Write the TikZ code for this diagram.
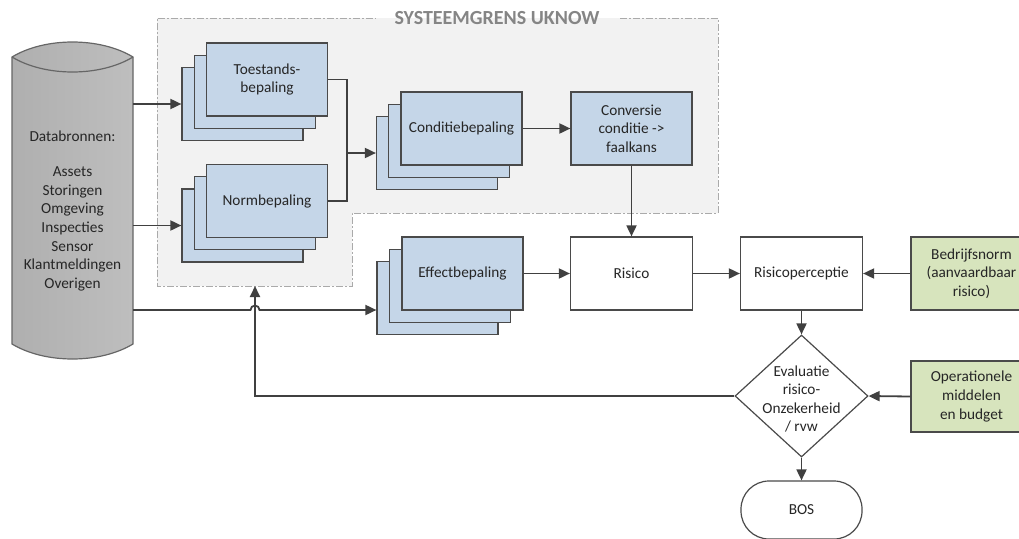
\documentclass[tikz,border=0pt]{standalone}
\usepackage{fontspec}
\setmainfont{Carlito}
\usetikzlibrary{shapes.geometric,arrows.meta,calc}
\definecolor{boxblue}{HTML}{C5D6E8}
\definecolor{boxgreen}{HTML}{D7E4BD}
\definecolor{boxline}{HTML}{4A4A4A}
\definecolor{connc}{HTML}{404040}
\definecolor{sysfill}{HTML}{F2F2F2}
\definecolor{sysline}{HTML}{AAAAAA}
\definecolor{titlec}{HTML}{858585}
\definecolor{cylL}{HTML}{AFAFAF}
\definecolor{cylR}{HTML}{BEBEBE}
\definecolor{cylline}{HTML}{666666}
\definecolor{txtc}{HTML}{262626}
\begin{document}
\begin{tikzpicture}[x=1pt,y=-1pt,
  every node/.style={font=\fontsize{15.3}{18.6}\selectfont, text=txtc},
  stackbox/.style={draw=boxline, fill=boxblue, line width=1.2pt, minimum width=121pt, minimum height=73pt, inner sep=2pt, align=center},
  plainbox/.style={draw=boxline, fill=white, line width=1.2pt, minimum width=122pt, minimum height=73pt, inner sep=2pt, align=center},
  greenbox/.style={draw=boxline, fill=boxgreen, line width=1.2pt, minimum width=121pt, minimum height=73pt, inner sep=2pt, align=center},
  conn/.style={draw=connc, line width=1.8pt},
  arr/.style={conn, -{Triangle[length=11pt,width=10pt]}},
  sysborder/.style={draw=sysline, line width=1pt, dash pattern=on 7pt off 2pt on 2pt off 2pt},
  titlestyle/.style={font=\fontsize{20}{24}\selectfont\bfseries, text=titlec, inner sep=0pt},
]
\useasboundingbox (0,0) rectangle (1019,538);

% system boundary
\fill[sysfill] (157,18) -- (718,18) -- (718,213) -- (352,213) -- (352,286) -- (157,286) -- cycle;
\path[sysborder] (620,18) -- (718,18) -- (718,213) -- (352,213) -- (352,286) -- (157,286) -- (157,18) -- (376,18);
\node[titlestyle] (title) at (497,18) {SYSTEEMGRENS UKNOW};
\coordinate (sysb) at (255,286);

% database cylinder
\shadedraw[left color=cylL, right color=cylR, draw=cylline, line width=1.2pt]
  (12,57) .. controls (45,37) and (100,37) .. (133,57) -- (133,344)
  .. controls (100,364) and (45,364) .. (12,344) -- cycle;
\draw[cylline, line width=1.2pt] (12,57) .. controls (45,77) and (100,77) .. (133,57);
\node[inner sep=0pt, minimum width=121pt, minimum height=287pt] (db) at (72.5,200.5) {};
\node[align=center, inner sep=0pt] (dbtext) at (72.5,211) {Databronnen:\\[16.5pt]Assets\\Storingen\\Omgeving\\Inspecties\\Sensor\\Klantmeldingen\\Overigen};

% Toestandsbepaling stack
\node[stackbox] (tb) at (242.5,104) {};
\node[stackbox] (tm) at (254.75,91.75) {};
\node[stackbox] (tf) at (267,79.5) {Toestands-\\bepaling};

% Normbepaling stack
\node[stackbox] (nb) at (242.5,225.5) {};
\node[stackbox] (nm) at (254.75,213.25) {};
\node[stackbox] (nf) at (267,201) {Normbepaling};

% Conditiebepaling stack
\node[stackbox] (cb) at (437,153) {};
\node[stackbox] (cm) at (449.25,140.75) {};
\node[stackbox] (cf) at (461.5,128.5) {Conditiebepaling};

% Effectbepaling stack
\node[stackbox] (eb) at (437.5,298) {};
\node[stackbox] (em) at (450,285.75) {};
\node[stackbox] (ef) at (462.5,273.5) {Effectbepaling};

\node[stackbox] (conv) at (631.5,128.5) {Conversie\\conditie ->\\faalkans};
\node[plainbox] (ris) at (631.5,273.5) {Risico};
\node[plainbox] (per) at (801.5,273.5) {Risicoperceptie};
\node[greenbox] (bed) at (971.5,273.5) {Bedrijfsnorm\\(aanvaardbaar\\risico)};
\node[greenbox, minimum height=71pt] (ope) at (971.5,396.5) {Operationele\\middelen\\en budget};

\node[diamond, draw=boxline, fill=white, line width=1.2pt, minimum width=133pt, minimum height=122pt, inner sep=0pt] (eval) at (801.5,396) {};
\node[align=center, inner sep=0pt] (evaltxt) at (801.5,399) {Evaluatie\\risico-\\Onzekerheid\\/ rvw};
\node[draw=boxline, fill=white, line width=1.2pt, rounded corners=28pt, minimum width=121pt, minimum height=58pt] (bos) at (801.5,510) {BOS};

% connectors
\coordinate (j) at (347,153);
\coordinate (ein) at ([yshift=-12pt]eb.west);
\draw[arr] (db.east |- tb.west) -- (tb.west);
\draw[arr] (db.east |- nb.west) -- (nb.west);
\draw[conn] (tf.east) -| (j) |- (nf.east);
\draw[arr] (j) -- (cb.west);
\draw[arr] (cf.east) -- (conv.west);
\draw[arr] (conv.south) -- (ris.north);
\draw[arr] (ef.east) -- (ris.west);
\draw[arr] (ris.east) -- (per.west);
\draw[arr] (bed.west) -- (per.east);
\draw[arr] (per.south) -- (eval.north);
\draw[arr] (ope.west) -- (eval.east);
\draw[arr] (eval.south) -- (bos.north);
\draw[arr] (eval.west) -| (sysb);
\draw[arr] (db.east |- ein) -- (250.5,310) arc[start angle=180, end angle=0, radius=4.5pt] -- (ein);
\end{tikzpicture}
\end{document}
